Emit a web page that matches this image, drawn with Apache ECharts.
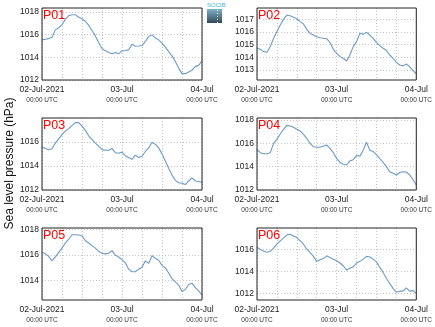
<!DOCTYPE html>
<html><head><meta charset="utf-8">
<script src="https://cdn.jsdelivr.net/npm/echarts@6/dist/echarts.min.js"></script>
<style>html,body{margin:0;padding:0;background:#fff}#c{width:435px;height:327px}</style>
</head><body><div id="c"></div>
<script>
const stations = ['P01','P02','P03','P04','P05','P06'];
const xTickLabels = ['02-Jul-2021','03-Jul','04-Jul'];
const xTickHours = [0, 24, 48];
const xSubLabel = '00:00 UTC';
const yAxisTitle = 'Sea level pressure (hPa)';

// hourly sea level pressure (hPa), 02-Jul-2021 00:00 UTC to 04-Jul 00:00 UTC
const p01 = [1015.54,1015.6,1015.65,1015.77,1016.42,1016.6,1016.88,1017.35,1017.67,1017.76,1017.76,1017.53,1017.4,1017.18,1016.82,1016.36,1015.89,1015.3,1014.78,1014.57,1014.43,1014.31,1014.43,1014.31,1014.57,1014.6,1014.66,1015.16,1014.98,1015.0,1015.04,1015.4,1015.83,1015.98,1015.71,1015.54,1015.25,1014.9,1014.5,1014.13,1013.64,1013.05,1012.56,1012.56,1012.7,1012.85,1013.2,1013.29,1013.7];
const p02 = [1014.71,1014.63,1014.45,1014.39,1014.84,1015.5,1016.03,1016.55,1017.0,1017.34,1017.29,1017.16,1017.05,1016.82,1016.63,1016.21,1015.89,1015.76,1015.63,1015.55,1015.5,1015.47,1015.16,1014.63,1014.32,1014.05,1013.92,1013.71,1014.18,1014.84,1015.24,1015.89,1015.82,1015.97,1015.76,1015.5,1015.16,1014.92,1014.71,1014.53,1014.18,1013.92,1013.6,1013.39,1013.32,1013.47,1013.26,1012.95,1012.68];
const p03 = [1015.57,1015.45,1015.34,1015.43,1015.9,1016.25,1016.6,1016.9,1017.1,1017.35,1017.6,1017.6,1017.3,1016.95,1016.5,1016.2,1015.9,1015.65,1015.35,1015.3,1015.3,1015.45,1015.1,1015.05,1015.15,1014.85,1014.7,1014.55,1014.9,1014.7,1014.8,1015.2,1015.5,1015.95,1015.8,1015.5,1015.0,1014.4,1013.8,1013.25,1012.8,1012.6,1012.57,1012.45,1012.75,1013.0,1012.75,1012.7,1012.63];
const p04 = [1015.49,1015.2,1015.1,1015.1,1015.2,1016.0,1016.34,1016.8,1017.2,1017.54,1017.49,1017.37,1017.2,1017.06,1016.77,1016.43,1016.0,1015.71,1015.66,1015.66,1015.77,1015.86,1015.57,1015.2,1014.71,1014.37,1014.2,1014.14,1014.5,1014.6,1014.95,1014.9,1015.4,1016.1,1015.4,1015.3,1015.0,1014.7,1014.37,1014.0,1013.57,1013.43,1013.29,1013.5,1013.57,1013.54,1013.29,1012.9,1012.43];
const p05 = [1016.22,1016.1,1015.9,1015.55,1015.85,1016.2,1016.55,1016.95,1017.25,1017.6,1017.6,1017.58,1017.5,1017.15,1016.95,1016.75,1016.55,1016.3,1016.15,1016.1,1016.15,1016.35,1016.0,1015.85,1015.65,1015.4,1014.9,1014.7,1014.7,1014.9,1015.05,1015.55,1015.35,1015.95,1015.75,1015.6,1015.2,1015.0,1014.6,1014.15,1013.9,1013.65,1013.15,1013.3,1013.7,1013.8,1013.45,1013.2,1012.88];
const p06 = [1016.18,1015.97,1015.82,1015.73,1015.8,1016.1,1016.45,1016.75,1017.0,1017.3,1017.35,1017.2,1017.05,1016.75,1016.45,1016.0,1015.7,1015.35,1014.9,1015.05,1015.15,1015.4,1015.25,1015.1,1014.95,1014.75,1014.5,1014.1,1014.3,1014.4,1014.75,1014.9,1015.1,1015.35,1015.3,1015.1,1014.85,1014.35,1013.9,1013.35,1012.9,1012.45,1012.1,1012.2,1012.2,1012.5,1012.2,1012.25,1012.0];
const seriesValues = [p01, p02, p03, p04, p05, p06];

// y-axis extents and tick labels per panel
const yMin = [1012, 1012.2, 1012, 1012, 1012.48, 1011.4];
const yMax = [1018.35, 1017.9, 1017.98, 1018.17, 1018.13, 1017.92];
const yTicks = [[1012,1014,1016,1018],[1013,1014,1015,1016,1017],[1012,1014,1016],[1012,1014,1016,1018],[1014,1016,1018],[1012,1014,1016]];

const FONT = 'Liberation Sans, Arial, sans-serif';
const lefts = [42, 257], tops = [8, 118, 228];
const W = 160, H = 72;
const lineColor = '#6b9bc9';
const gridLineStyle = {color: '#c4c4c4', type: [1, 2], width: 1};

const grids = [], xAxes = [], yAxes = [], series = [], titles = [];
stations.forEach((name, i) => {
  const col = i % 2, row = Math.floor(i / 2);
  grids.push({left: lefts[col], top: tops[row], width: W, height: H, show: true, borderColor: '#222', borderWidth: 1, backgroundColor: 'transparent', containLabel: false, z: 5});
  xAxes.push({
    type: 'value', gridIndex: i, min: 0, max: 48, interval: 6,
    axisLine: {show: false}, axisTick: {show: false},
    splitLine: {show: true, lineStyle: gridLineStyle},
    axisLabel: {
      show: true, margin: 4, showMinLabel: true, showMaxLabel: true,
      formatter: v => {
        const k = xTickHours.indexOf(v);
        return k < 0 ? '' : '{a|' + xTickLabels[k] + '}\n{b|' + xSubLabel + '}';
      },
      rich: {
        a: {fontSize: 8.5, fontFamily: FONT, color: '#222', lineHeight: 11},
        b: {fontSize: 6.5, fontFamily: FONT, color: '#333', lineHeight: 10}
      }
    }
  });
  yAxes.push({
    type: 'value', gridIndex: i, min: yMin[i], max: yMax[i],
    axisLine: {show: false},
    axisTick: {show: false, customValues: yTicks[i]},
    splitLine: {show: false},
    axisLabel: {customValues: yTicks[i], formatter: v => String(v), fontSize: 8.5, fontFamily: FONT, color: '#222', margin: 3, showMinLabel: true, showMaxLabel: true}
  });
  series.push({
    type: 'line', xAxisIndex: i, yAxisIndex: i, showSymbol: false, symbol: 'none',
    lineStyle: {color: lineColor, width: 1.1}, animation: false, z: 3,
    data: seriesValues[i].map((v, h) => [h, v]),
    markLine: {
      silent: true, symbol: ['none', 'none'], label: {show: false}, animation: false,
      lineStyle: gridLineStyle, z: 1,
      data: yTicks[i].map(v => ({yAxis: v}))
    }
  });
  titles.push({text: name, left: lefts[col] + 1, top: tops[row] + 1, textStyle: {color: '#ff0000', fontSize: 12.5, fontWeight: 'normal', fontFamily: FONT}, padding: 0});
});

const chart = echarts.init(document.getElementById('c'), null, {renderer: 'canvas'});
chart.setOption({
  animation: false,
  backgroundColor: '#fff',
  title: titles,
  grid: grids, xAxis: xAxes, yAxis: yAxes, series: series,
  graphic: [
    {type: 'text', left: 4, top: 'middle', rotation: Math.PI / 2,
     style: {text: yAxisTitle, fontSize: 12, fontFamily: FONT, fill: '#111'}, z: 10},
    {type: 'text', x: 207, y: 2, style: {text: 'SOCIB', fontSize: 6, fontFamily: FONT, fill: '#3db4d6'}},
    {type: 'rect', shape: {x: 207, y: 9, width: 15, height: 14},
     style: {fill: new echarts.graphic.LinearGradient(0, 0, 0, 1, [{offset: 0, color: '#7fb2c4'}, {offset: 1, color: '#34495a'}])}},
    {type: 'line', shape: {x1: 217.5, y1: 10, x2: 217.5, y2: 23}, style: {stroke: '#fff', lineWidth: 1, lineDash: [1, 2]}}
  ]
});
</script></body></html>
